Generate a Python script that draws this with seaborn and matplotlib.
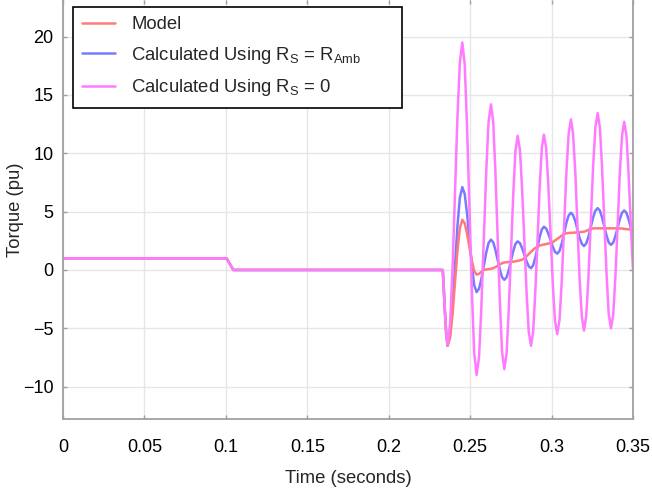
import matplotlib
matplotlib.use("Agg")
import matplotlib.pyplot as plt
import seaborn as sns
import pandas as pd

# shared time grid (s)
time_s = [0.0, 0.1005, 0.1046, 0.2332, 0.2336, 0.2345, 0.2354, 0.2362,
          0.2377, 0.2392, 0.2407, 0.2422, 0.2437, 0.2452,
          0.2467, 0.2481, 0.2496, 0.2511, 0.2525, 0.2540,
          0.2555, 0.2569, 0.2584, 0.2599, 0.2613, 0.2628,
          0.2642, 0.2655, 0.2669, 0.2683, 0.2696, 0.2710,
          0.2724, 0.2737, 0.2751, 0.2765, 0.2778, 0.2792,
          0.2806, 0.2819, 0.2833, 0.2847, 0.2860, 0.2874,
          0.2887, 0.2900, 0.2914, 0.2927, 0.2940, 0.2953,
          0.2967, 0.2980, 0.2994, 0.3008, 0.3021, 0.3035,
          0.3049, 0.3063, 0.3077, 0.3091, 0.3105, 0.3119,
          0.3132, 0.3146, 0.3159, 0.3172, 0.3186, 0.3199,
          0.3213, 0.3227, 0.3241, 0.3255, 0.3269, 0.3283,
          0.3297, 0.3310, 0.3324, 0.3338, 0.3351, 0.3365,
          0.3379, 0.3392, 0.3406, 0.3419, 0.3433, 0.3446,
          0.3460, 0.3473, 0.3487, 0.3500]

# torque (pu)
model = [1, 1, 0, 0, -1.0, -3.5, -5.6, -6.5,
         -5.78, -3.8, -1.1, 1.6, 3.58, 4.3,
         3.99, 3.13, 1.95, 0.78, -0.09, -0.4,
         -0.33, -0.15, 0.0, 0.04, 0.07, 0.1,
         0.15, 0.24, 0.35, 0.48, 0.58, 0.64,
         0.66, 0.68, 0.70, 0.71, 0.74, 0.78,
         0.82, 0.88, 1.0, 1.18, 1.36, 1.55,
         1.73, 1.88, 2.0, 2.09, 2.14, 2.18,
         2.22, 2.26, 2.3, 2.39, 2.52, 2.66,
         2.8, 2.95, 3.08, 3.14, 3.17, 3.18,
         3.19, 3.21, 3.22, 3.24, 3.26, 3.28,
         3.35, 3.44, 3.53, 3.56, 3.57, 3.57,
         3.57, 3.57, 3.57, 3.57, 3.57, 3.57,
         3.57, 3.57, 3.57, 3.56, 3.55, 3.52,
         3.50, 3.48, 3.46, 3.43]

rs_amb = [1, 1, 0, 0, -1.0, -3.5, -5.6, -6.5,
          -5.59, -3.1, 0.3, 3.7, 6.19, 7.1,
          6.50, 4.85, 2.6, 0.35, -1.3, -1.9,
          -1.6, -0.78, 0.35, 1.48, 2.3, 2.6,
          2.37, 1.74, 0.875, 0.01, -0.62, -0.85,
          -0.63, -0.03, 0.8, 1.63, 2.23, 2.45,
          2.30, 1.88, 1.3, 0.73, 0.30, 0.15,
          0.39, 1.04, 1.93, 2.81, 3.46, 3.7,
          3.55, 3.12, 2.55, 1.98, 1.55, 1.4,
          1.63, 2.28, 3.15, 4.03, 4.67, 4.9,
          4.71, 4.19, 3.48, 2.76, 2.24, 2.05,
          2.27, 2.86, 3.68, 4.49, 5.08, 5.3,
          5.09, 4.51, 3.73, 2.94, 2.36, 2.15,
          2.35, 2.89, 3.63, 4.36, 4.90, 5.1,
          4.90, 4.35, 3.6, 3.2]

rs_zero = [1, 1, 0, 0, -1.0, -3.5, -5.6, -6.4,
           -4.67, 0.08, 6.55, 13.03, 17.76, 19.5,
           17.59, 12.38, 5.25, -1.88, -7.09, -9.0,
           -7.45, -3.2, 2.6, 8.4, 12.65, 14.2,
           12.68, 8.53, 2.85, -2.83, -6.98, -8.5,
           -7.16, -3.5, 1.5, 6.5, 10.16, 11.5,
           10.29, 7.0, 2.5, -2.0, -5.29, -6.5,
           -5.29, -1.98, 2.55, 7.08, 10.39, 11.6,
           10.45, 7.33, 3.05, -1.23, -4.35, -5.5,
           -4.27, -0.9, 3.7, 8.3, 11.67, 12.9,
           11.69, 8.38, 3.85, -0.68, -3.99, -5.2,
           -3.95, -0.54, 4.13, 8.79, 12.2, 13.45,
           12.21, 8.84, 4.23, -0.39, -3.76, -5.0,
           -3.81, -0.58, 3.85, 8.28, 11.51, 12.7,
           11.51, 8.28, 3.85, 0.0]

series_names = ["Model", "Amb", "Zero"]
legend_labels = ["Model",
                 r"Calculated Using R$_{\mathrm{S}}$ = R$_{\mathrm{Amb}}$",
                 r"Calculated Using R$_{\mathrm{S}}$ = 0"]
colors = {"Model": "#ff7a7a", "Amb": "#7a7aff", "Zero": "#ff7aff"}
draw_order = ["Amb", "Model", "Zero"]  # magenta ends up on top

x_ticks = [0, 0.05, 0.1, 0.15, 0.2, 0.25, 0.3, 0.35]
x_tick_labels = ["0", "0.05", "0.1", "0.15", "0.2", "0.25", "0.3", "0.35"]
y_ticks = [-10, -5, 0, 5, 10, 15, 20]

sns.set_theme(style="whitegrid")
plt.rcParams["font.family"] = ["Liberation Sans", "DejaVu Sans"]
plt.rcParams["mathtext.fontset"] = "custom"
plt.rcParams["mathtext.rm"] = "Liberation Sans"

df = pd.DataFrame({
    "time": time_s * 3,
    "torque": model + rs_amb + rs_zero,
    "series": [n for n in series_names for _ in time_s],
})

fig = plt.figure(figsize=(6.52, 4.88), dpi=100)
ax = fig.add_axes([0.0966, 0.1408, 0.8742, 0.8592])

sns.lineplot(data=df, x="time", y="torque", hue="series", hue_order=draw_order,
             palette=colors, estimator=None, sort=False, linewidth=1.8,
             legend=False, ax=ax)
line_by_name = dict(zip(draw_order, ax.lines))

ax.set_xlim(0, 0.35)
ax.set_ylim(-12.8, 23.14)
ax.set_xticks(x_ticks)
ax.set_xticklabels(x_tick_labels)
ax.set_yticks(y_ticks)
ax.set_xlabel("Time (seconds)", fontsize=13.3, labelpad=10)
ax.set_ylabel("Torque (pu)", fontsize=13.3, labelpad=-1)

ax.grid(True, color="#e6e6e6", linewidth=1.0)
for side in ["left", "bottom", "right"]:
    ax.spines[side].set_visible(True)
    ax.spines[side].set_color("#a0a0a0")
    ax.spines[side].set_linewidth(1.3)
ax.spines["top"].set_visible(False)
ax.tick_params(axis="both", direction="in", length=3, width=1, color="#a0a0a0",
               labelsize=13, labelcolor="black", top=True, right=True,
               bottom=True, left=True)
ax.tick_params(axis="x", pad=14)
ax.tick_params(axis="y", pad=7)

handles = [line_by_name[n] for n in series_names]
leg = ax.legend(handles, legend_labels, loc="upper left",
                bbox_to_anchor=(0.0175, 0.983, 0.577, 0), mode="expand",
                borderaxespad=0, frameon=True, fancybox=False, framealpha=1,
                edgecolor="black", fontsize=13.3, handlelength=1.75,
                handletextpad=0.9, labelspacing=0.62, borderpad=0.5)
leg.get_frame().set_linewidth(1.2)

fig.savefig("out.png", dpi=100)
